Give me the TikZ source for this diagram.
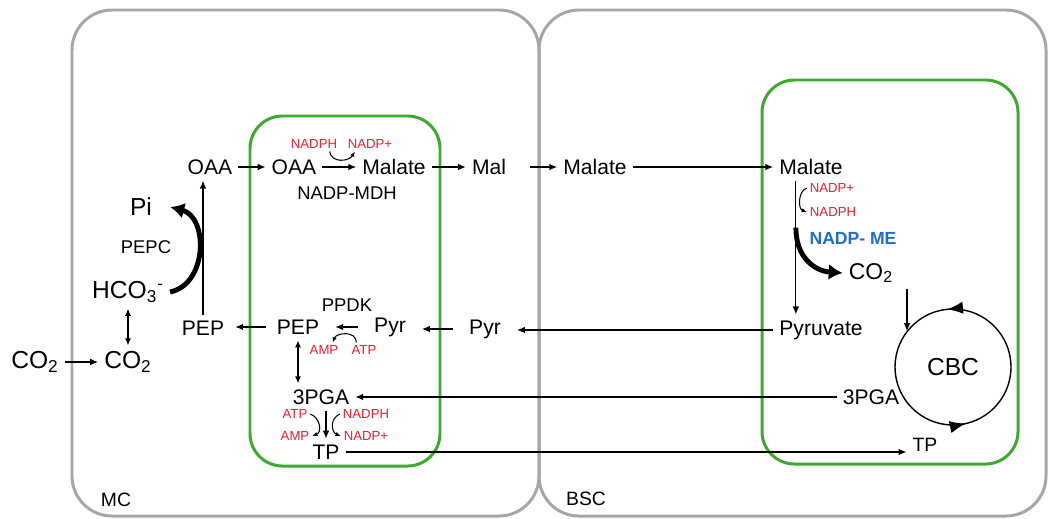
\documentclass[tikz,border=0pt]{standalone}
\usepackage{fontspec}
\setmainfont{Liberation Sans}
\usetikzlibrary{arrows.meta,calc,decorations.markings}

\definecolor{cellgray}{RGB}{166,166,166}
\definecolor{chlgreen}{RGB}{60,170,50}
\definecolor{cofred}{RGB}{235,30,45}
\definecolor{enzblue}{RGB}{30,110,200}

\begin{document}
\begin{tikzpicture}[x=0.02cm,y=-0.02cm]
  \tikzstyle{cellbox}=[draw=cellgray, line width=1.7pt, rounded corners=0.8cm]
  \tikzstyle{chlbox}=[draw=chlgreen, line width=1.7pt, rounded corners=0.65cm]
  \tikzstyle{met}=[font=\fontsize{12}{14}\selectfont]
  \tikzstyle{bigmet}=[font=\fontsize{14}{16}\selectfont]
  \tikzstyle{cof}=[font=\fontsize{7.5}{9}\selectfont, text=cofred, inner sep=1.5pt]
  \tikzstyle{enz}=[font=\fontsize{10.5}{12}\selectfont]
  \tikzstyle{enzme}=[font=\bfseries\fontsize{10}{12}\selectfont, text=enzblue]
  \tikzstyle{cellname}=[font=\fontsize{11}{13}\selectfont]
  \tikzstyle{arr}=[-{Latex[length=4.5pt,width=3.8pt]}, line width=0.7pt]
  \tikzstyle{dblarr}=[{Latex[length=4pt,width=3.5pt]}-{Latex[length=4pt,width=3.5pt]}, line width=0.7pt]
  \tikzstyle{smallarr}=[-{Latex[length=3pt,width=2.5pt]}, line width=0.6pt]
  \tikzstyle{fatarr}=[-{Latex[length=8pt,width=9pt]}, line width=2.8pt]
  \tikzstyle{cbcring}=[line width=0.8pt, postaction={decorate}, decoration={markings,
    mark=at position 0.266 with {\arrow{Latex[length=9pt,width=7pt]}},
    mark=at position 0.785 with {\arrow{Latex[length=9pt,width=7pt]}}}]

  \useasboundingbox (0,0) rectangle (1048,518);
  \draw[cellbox] (72,10) rectangle (539,516);
  \draw[cellbox] (539,10) rectangle (1046,516);
  \draw[chlbox] (250,116) rectangle (440,466);
  \draw[chlbox] (762,80) rectangle (1018,464);

  \node[cellname] (mc) at (116,500) {MC};
  \node[cellname] (bsc) at (586,499) {BSC};

  \node[bigmet] (co2out) at (35,362) {CO\textsubscript{2}};
  \node[bigmet] (co2in) at (128,362) {CO\textsubscript{2}};
  \node[bigmet] (hco) at (128,292) {HCO\textsubscript{3}\textsuperscript{-}};
  \node[bigmet] (pi) at (141,207) {Pi};
  \node[enz] (pepc) at (146,247) {PEPC};
  \node[met] (oaaM) at (210,167) {OAA};
  \node[met] (pepM) at (203,328) {PEP};
  \node[met] (oaaC) at (294,167) {OAA};
  \node[met] (malC) at (394,167) {Malate};
  \node[cof] (nadphT) at (314,144) {NADPH};
  \node[cof] (nadpT) at (370,144) {NADP+};
  \node[enz] (mdh) at (347,193) {NADP-MDH};
  \node[met] (mal) at (489,167) {Mal};
  \node[met] (malB) at (595,167) {Malate};
  \node[met] (malR) at (811,167) {Malate};
  \node[cof] (nadpB) at (832,188) {NADP+};
  \node[cof] (nadphB) at (833,212) {NADPH};
  \node[enzme] (me) at (853,238) {NADP- ME};
  \node[font=\fontsize{13}{15}\selectfont] (co2R) at (871,273) {CO\textsubscript{2}};
  \node[met] (pyruvate) at (821,330) {Pyruvate};
  \node[met] (pyrM) at (485,329) {Pyr};
  \node[met] (pyrC) at (390,327) {Pyr};
  \node[met] (pepC) at (298,327) {PEP};
  \node[enz] (ppdk) at (347,305) {PPDK};
  \node[cof] (ampP) at (324,350) {AMP};
  \node[cof] (atpP) at (364,350) {ATP};
  \node[met] (pgaC) at (321,397) {3PGA};
  \node[met] (pgaR) at (871,397) {3PGA};
  \node[cof] (atpL) at (295,414) {ATP};
  \node[cof] (nadphL) at (366,414) {NADPH};
  \node[cof] (ampL) at (295,436) {AMP};
  \node[cof] (nadpL) at (366,436) {NADP+};
  \node[met] (tpC) at (326,452) {TP};
  \node[font=\fontsize{11}{13}\selectfont] (tpR) at (925,445) {TP};
  \node[bigmet, circle, minimum size=2.32cm, inner sep=0pt] (cbc) at (953,367) {CBC};
  \draw[cbcring] (cbc.center) circle[radius=1.16cm];

  \draw[arr] (co2out) -- (co2in);
  \draw[dblarr] (hco) -- (co2in);
  \draw[fatarr] (hco.east) .. controls +(38,-8) and +(38,10) .. ($(pi.east)+(12,0)$);
  \draw[arr] (pepM) -- (pepM |- oaaM.south);
  \draw[arr, shorten <=0.1cm, shorten >=0.1cm] (pepC.west) -- (pepC.west -| pepM.east);
  \draw[arr] (oaaM) -- (oaaC);
  \draw[arr] (oaaC) -- (malC);
  \draw[smallarr] ($(nadphT.south)!0.6!(nadphT.south east)$) .. controls +(2,12) and +(-6,10) .. ($(nadpT.south west)!0.2!(nadpT.south east)$);
  \draw[arr] (malC) -- (mal);
  \draw[arr, shorten <=0.35cm] (mal) -- (malB);
  \draw[arr] (malB) -- (malR);
  \draw[arr] ($(malR.south west)!0.3!(malR.south east)$) coordinate (mdown) -- (mdown |- pyruvate.north);
  \draw[smallarr] (nadpB.west) .. controls +(-9,3) and +(-9,-3) .. (nadphB.west);
  \draw[fatarr] ($(mdown)!0.35!(mdown |- pyruvate.north)$) .. controls +(0,30) and +(-28,-2) .. (co2R.west);
  \draw[arr] (cbc.142 |- co2R.south) -- (cbc.142);
  \draw[arr, shorten >=0.2cm] (pyruvate.west) -- (pyruvate.west -| pyrM.east);
  \draw[arr, shorten <=0.2cm, shorten >=0.2cm] (pyrM.west) -- (pyrM.west -| pyrC.east);
  \draw[arr, shorten <=0.2cm, shorten >=0.2cm] (pyrC.west) -- (pyrC.west -| pepC.east);
  \draw[smallarr] ($(atpP.north west)!0.5!(atpP.north)$) .. controls +(0,-12) and +(4,-10) .. ($(ampP.north)!0.5!(ampP.north east)$);
  \draw[dblarr] (pepC.south) -- (pepC.south |- pgaC.north);
  \draw[arr] (pgaR) -- (pgaC);
  \draw[arr] (tpC.north |- pgaC.south) -- (tpC.north);
  \draw[smallarr] (atpL.east) .. controls +(10,4) and +(10,-4) .. (ampL.east);
  \draw[smallarr] (nadphL.west) .. controls +(-10,4) and +(-10,-4) .. (nadpL.west);
  \draw[arr] (tpC.east) -- (tpC.east -| tpR.west);
\end{tikzpicture}
\end{document}
